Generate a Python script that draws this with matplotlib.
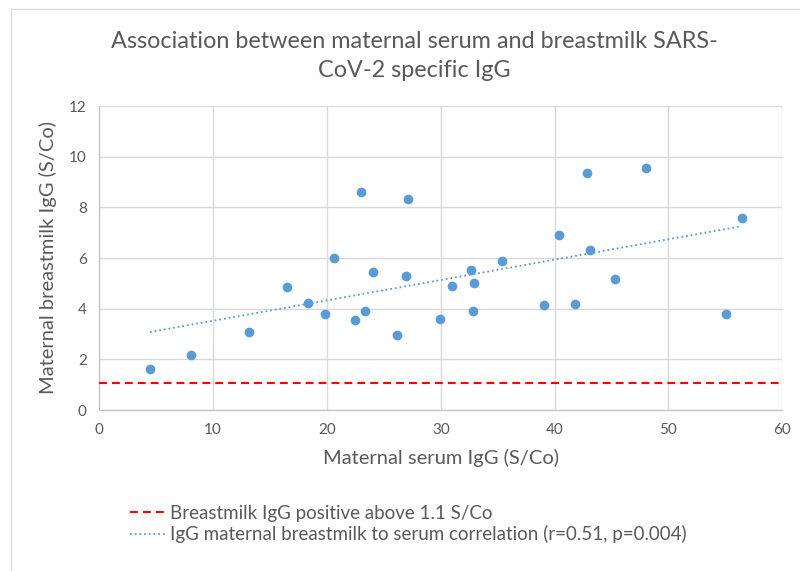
"""
Maternal serum vs breastmilk SARS-CoV-2 IgG scatter
"""

import numpy as np
import matplotlib
matplotlib.use("Agg")
from matplotlib import pyplot as plt
from matplotlib.patches import Rectangle

# values
serum_igg = [4.45, 8.04, 13.19, 16.46, 18.31, 19.8, 20.65, 22.49, 22.98, 23.34,
             24.07, 26.15, 26.96, 27.14, 29.97, 30.97, 32.63, 32.93, 32.84, 35.39,
             39.1, 40.41, 41.79, 42.84, 43.07, 45.3, 48.04, 55.09, 56.43]
milk_igg = [1.62, 2.17, 3.07, 4.87, 4.21, 3.79, 6.01, 3.55, 8.62, 3.91,
            5.44, 2.97, 5.30, 8.32, 3.58, 4.91, 5.53, 5.01, 3.92, 5.88,
            4.13, 6.91, 4.20, 9.37, 6.30, 5.18, 9.55, 3.80, 7.57]
threshold = 1.05
x_ticks = [0, 10, 20, 30, 40, 50, 60]
y_ticks = [0, 2, 4, 6, 8, 10, 12]

title = "Association between maternal serum and breastmilk SARS-\nCoV-2 specific IgG"
label_threshold = "Breastmilk IgG positive above 1.1 S/Co"
label_trend = "IgG maternal breastmilk to serum correlation (r=0.51, p=0.004)"

BLUE = "#5b9bd5"
GREY = "#595959"
GRID = "#d9d9d9"

plt.rcParams["font.family"] = ["Lato", "DejaVu Sans"]

fig = plt.figure(figsize=(8, 5.71), dpi=100)
fig.patches.append(Rectangle((10.5 / 800, -0.1), 1.2, 1.1 - 8.5 / 571,
                             transform=fig.transFigure, fill=False,
                             edgecolor=GRID, linewidth=0.9))

ax = fig.add_axes([99.3 / 800, 1 - 410 / 571, 683 / 800, 304 / 571])

x = np.array(serum_igg)
y = np.array(milk_igg)
slope, intercept = np.polyfit(x, y, 1)
xs = np.array([x.min(), x.max()])

ax.axhline(threshold, color="#ff0000", linewidth=1.5, dashes=(3.8, 2.4),
           label=label_threshold, zorder=3)
ax.plot(xs, slope * xs + intercept, color=BLUE, linewidth=1.3,
        linestyle=(0, (1, 1.6)), label=label_trend, zorder=2)
ax.plot(x, y, "o", color=BLUE, markersize=7, markeredgewidth=0, zorder=4)

ax.set_xlim(0, 60)
ax.set_ylim(0, 12)
ax.set_xticks(x_ticks)
ax.set_yticks(y_ticks)
ax.grid(True, color=GRID, linewidth=1.0)
ax.set_axisbelow(True)
for side in ["top", "right"]:
    ax.spines[side].set_visible(False)
for side in ["left", "bottom"]:
    ax.spines[side].set_color("#bfbfbf")
ax.tick_params(length=0, labelsize=11, labelcolor=GREY)
ax.tick_params(axis="x", pad=9)
ax.tick_params(axis="y", pad=9)

ax.set_xlabel("Maternal serum IgG (S/Co)", fontsize=14.5, color=GREY, labelpad=9)
ax.set_ylabel("Maternal breastmilk IgG (S/Co)", fontsize=14.5, color=GREY, labelpad=9)

fig.text(414 / 800, 1 - 56 / 571, title, ha="center", va="center",
         fontsize=16.8, color=GREY, linespacing=1.5)

leg = fig.legend(loc="upper left", bbox_to_anchor=(130 / 800, 1 - 505 / 571),
                 frameon=False, fontsize=13.5, handlelength=1.9,
                 handletextpad=0.25, labelspacing=0.17, labelcolor=GREY,
                 borderaxespad=0, borderpad=0)

fig.savefig("out.png", dpi=100)
